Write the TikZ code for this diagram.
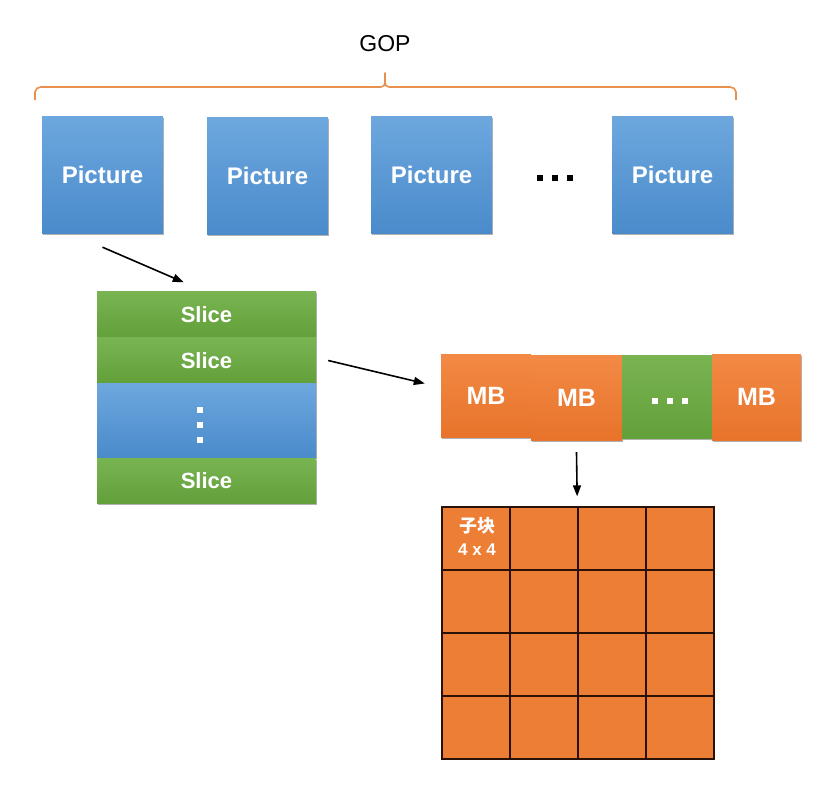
\documentclass[tikz,border=0pt]{standalone}
\usepackage{fontspec}
\setmainfont{Liberation Sans}
\newfontfamily\cjkfont{Noto Sans CJK SC}
\usetikzlibrary{arrows.meta,calc,shadows}
\definecolor{bluetop}{HTML}{6DA7DE}
\definecolor{bluebot}{HTML}{4A8BCB}
\definecolor{greentop}{HTML}{79B452}
\definecolor{greenbot}{HTML}{62A03A}
\definecolor{orangetop}{HTML}{F28A45}
\definecolor{orangebot}{HTML}{E8732A}
\definecolor{gridorange}{HTML}{EC7E35}
\definecolor{braceorange}{HTML}{E8904E}
\definecolor{gridline}{HTML}{2A1208}
\tikzset{
  box/.style={draw=none, inner sep=0pt, text=white, font=\fontsize{22}{26}\selectfont\bfseries,
    drop shadow={shadow xshift=1.2pt, shadow yshift=-1.8pt, opacity=0.3, fill=black}},
  picbox/.style={box, top color=bluetop, bottom color=bluebot, minimum width=121pt, minimum height=117pt,
    font=\fontsize{24}{28}\selectfont\bfseries},
  slicebox/.style={box, top color=greentop, bottom color=greenbot, minimum width=219pt},
  dotsbox/.style={box, top color=bluetop, bottom color=bluebot, minimum width=219pt},
  mbbox/.style={box, top color=orangetop, bottom color=orangebot, font=\fontsize{25}{29}\selectfont\bfseries},
  mbgreen/.style={box, top color=greentop, bottom color=greenbot},
  cell/.style={draw=gridline, line width=1.3pt, fill=gridorange, minimum width=68pt, minimum height=63pt, inner sep=0pt},
  conn/.style={draw=black, line width=1.6pt, -{Triangle[length=11pt,width=8pt]}},
  dotsq/.style={fill=#1, minimum size=6.5pt, inner sep=0pt},
}
\begin{document}
\begin{tikzpicture}[x=1pt,y=-1pt]
\fill[white] (0,0) rectangle (839,790);
\useasboundingbox (0,0) rectangle (839,790);

% GOP label and brace
\node[font=\fontsize{23}{27}\selectfont] (gop) at (385,44) {GOP};
\coordinate (brL) at (35,100);
\coordinate (brR) at (736,100);
\coordinate (brT) at (385,73);
\draw[braceorange, line width=1.6pt, line join=round]
  (brL) -- (35,92) to[out=90,in=180] (41,87) -- (381,87) to[out=0,in=-90] (brT)
  to[out=-90,in=180] (389,87) -- (730,87) to[out=0,in=90] (736,92) -- (brR);

% Pictures
\node[picbox] (p1) at (102.5,174.5) {Picture};
\node[picbox] (p2) at (267.5,176) {Picture};
\node[picbox] (p3) at (431.5,175) {Picture};
\node[picbox] (p4) at (672.5,175) {Picture};
\node[dotsq=black] (pd1) at (540,178) {};
\node[dotsq=black] (pd2) at (555,178) {};
\node[dotsq=black] (pd3) at (570,178) {};

% Slices
\node[slicebox, minimum height=46pt] (s1) at (206.5,314.5) {Slice};
\node[slicebox, minimum height=46pt] (s2) at (206.5,360.5) {Slice};
\node[dotsbox, minimum height=74pt] (sd) at (206.5,420.5) {};
\node[slicebox, minimum height=45pt] (s3) at (206.5,480.5) {Slice};
\node[dotsq=white] (sd1) at (200,410) {};
\node[dotsq=white] (sd2) at (200,425) {};
\node[dotsq=white] (sd3) at (200,440) {};

% Macroblocks
\node[mbbox, minimum width=90pt, minimum height=83pt] (mb1) at (486,395.5) {MB};
\node[mbbox, minimum width=91pt, minimum height=85pt] (mb2) at (576.5,397.5) {MB};
\node[mbgreen, minimum width=90pt, minimum height=83pt] (mbd) at (667,396.5) {};
\node[mbbox, minimum width=89pt, minimum height=86pt] (mb4) at (756.5,397) {MB};
\node[dotsq=white] (md1) at (655,401) {};
\node[dotsq=white] (md2) at (670,401) {};
\node[dotsq=white] (md3) at (685,401) {};

% 4x4 grid of sub-blocks
\foreach \r in {0,...,3}{
  \foreach \c in {0,...,3}{
    \node[cell] (c-\r-\c) at ({476+68*\c},{538.5+63*\r}) {};
  }
}
\node[text=white, font=\fontsize{17}{20}\selectfont\bfseries, align=center, inner sep=0pt] (sub) at (477,536)
  {{\cjkfont\fontsize{18}{20}\selectfont\bfseries 子块}\\[3pt]4 x 4};

% Connectors
\draw[conn] ($(p1.south)+(0,14)$) -- ($(s1.north west)+(87,-9)$);
\draw[conn] ($(s2.east)+(12,0)$) -- ($(mb1.west)+(-16,-12)$);
\draw[conn] ($(mb2.south)+(0,12)$) -- ($(c-0-1.north east)+(-1.5,-10)$);
\end{tikzpicture}
\end{document}
